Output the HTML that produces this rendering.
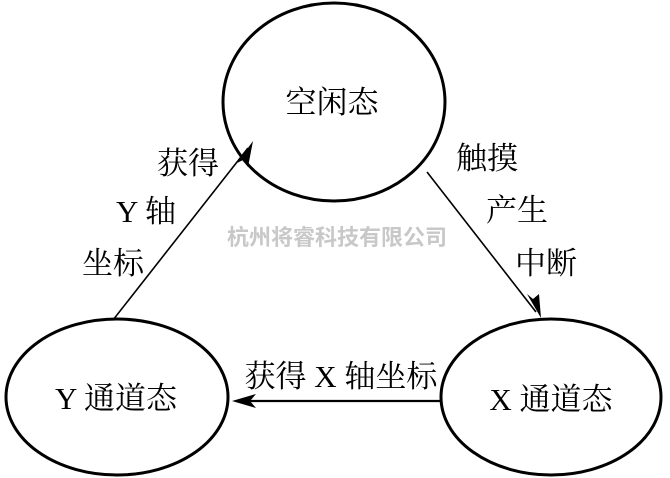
<!DOCTYPE html>
<html><head><meta charset="utf-8"><style>
html,body{margin:0;padding:0;background:#fff;width:670px;height:478px;overflow:hidden}
text{font-family:"Liberation Serif","Noto Serif CJK SC",serif;fill:#000}
</style></head><body>
<svg width="670" height="478" viewBox="0 0 670 478" xmlns="http://www.w3.org/2000/svg">
<g fill="none" stroke="#000" stroke-width="3">
<ellipse cx="334" cy="102" rx="111" ry="99"/>
<ellipse cx="117" cy="397" rx="111" ry="78"/>
<ellipse cx="551" cy="397" rx="110" ry="78"/>
</g>
<g stroke="#000" stroke-width="1.6">
<line x1="113" y1="320" x2="248" y2="148"/>
<line x1="427" y1="172" x2="536" y2="312"/>
<line x1="440" y1="401" x2="240" y2="401" stroke-width="2.2"/>
</g>
<polygon points="253,141 237,163 243,160 248,167" fill="#000"/>
<polygon points="541,318 527,294 533,299 539,294" fill="#000"/>
<polygon points="232,401 256,394 250,401 256,408" fill="#000"/>
<g font-size="31" text-anchor="middle">
<text x="332" y="113">空闲态</text>
<text x="116" y="409">Y 通道态</text>
<text x="551" y="410">X 通道态</text>
<text x="188" y="174">获得</text>
<text x="146" y="222">Y 轴</text>
<text x="113" y="274">坐标</text>
<text x="487" y="169">触摸</text>
<text x="517" y="221">产生</text>
<text x="546" y="274">中断</text>
<text x="341" y="387">获得 X 轴坐标</text>
</g>
<text x="337" y="245" font-size="22" font-weight="bold" text-anchor="middle" style="fill:#c8c8c8;font-family:'Liberation Sans','Noto Sans CJK SC',sans-serif">杭州将睿科技有限公司</text>
</svg>
</body></html>
